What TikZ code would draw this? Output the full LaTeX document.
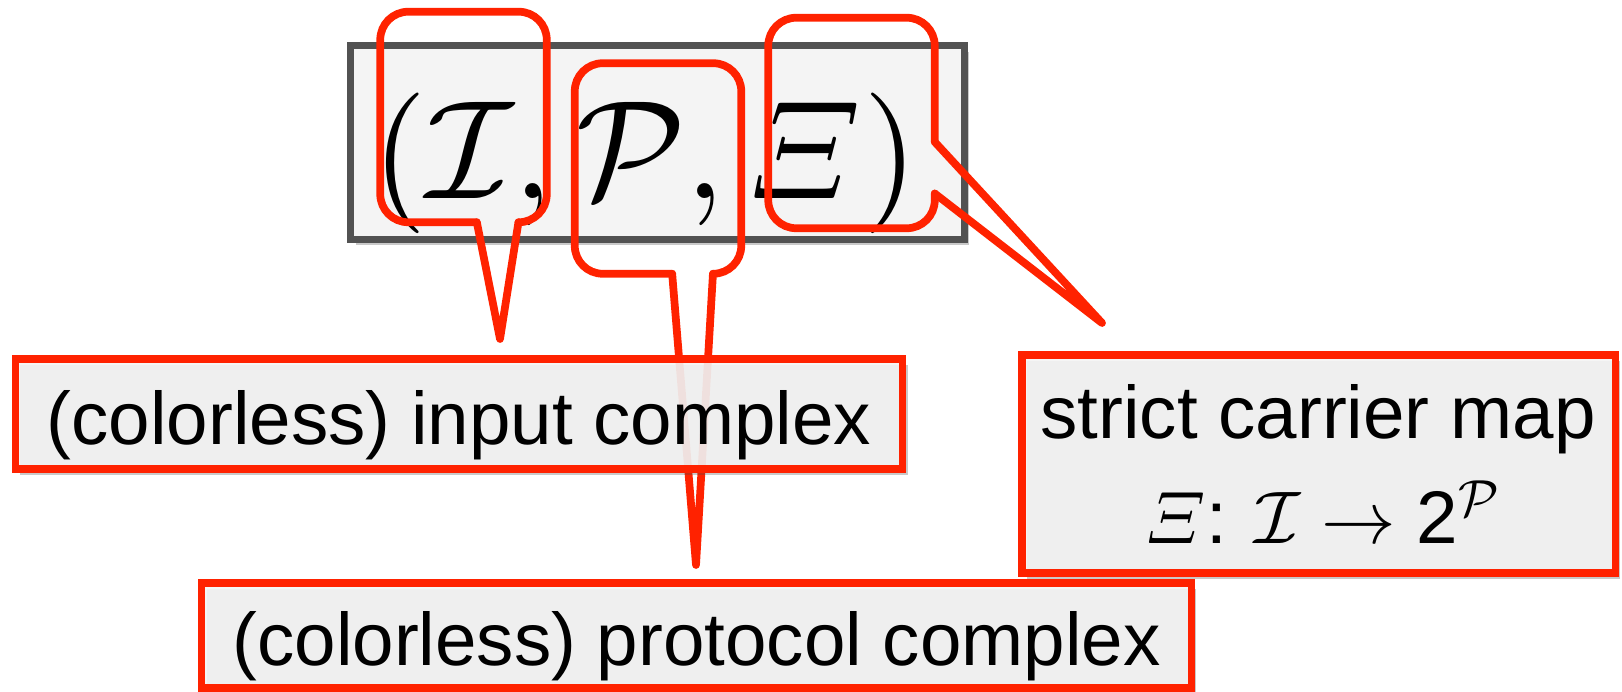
\documentclass[tikz,border=0pt]{standalone}
\usepackage{amsmath}
\usepackage[no-math]{fontspec}
\newfontfamily\labelfont{Liberation Sans}
\usetikzlibrary{calc,shadows}

% scalable math fonts for the large triple
\DeclareFontShape{OML}{cmm}{m}{it}{<->cmmi10}{}
\DeclareFontShape{OMS}{cmsy}{m}{n}{<->cmsy10}{}
\DeclareFontShape{OT1}{cmr}{m}{n}{<->cmr10}{}

\definecolor{calloutred}{RGB}{255,34,0}
\definecolor{framegray}{RGB}{82,82,82}
\definecolor{boxfill}{RGB}{244,244,244}

\tikzset{
  boxshadow/.style={drop shadow={shadow xshift=0.5mm,shadow yshift=-0.6mm,opacity=0.3,fill=black!70}},
  tuplebox/.style={draw=framegray,line width=2pt,fill=boxfill,boxshadow,inner sep=0pt},
  labeltext/.style={inner sep=0pt,font=\labelfont\fontsize{21.2}{25}\selectfont},
  labelbox/.style={draw=calloutred,line width=2.1pt,fill=boxfill,fill opacity=0.9,text opacity=1,
    boxshadow,labeltext,text height=0.75cm,text depth=0.15cm},
  spot/.style={inner sep=0pt,minimum width=1.65cm,minimum height=2.09cm},
  callout/.style={draw=calloutred,line width=2.2pt,line cap=round,rounded corners=0.28cm},
  pointer/.style={draw=calloutred,line width=2.2pt,line cap=round,line join=round},
}

\begin{document}
\begin{tikzpicture}[x=0.01cm,y=-0.01cm]
\useasboundingbox (0,0) rectangle (1622,692);

% the triple
\node[tuplebox,minimum width=6.13cm,minimum height=1.93cm] (frame) at (657.5,142.5) {};
\node[anchor=base,inner sep=0pt,font=\fontsize{40}{48}\selectfont] (tuple) at (645,199)
  {$(\mathcal{I},\mathcal{P},\mathnormal{\Xi})$};

% regions picked out by the callouts
\node[spot] (spotI) at (463.5,117) {};
\node[spot] (spotP) at (658,168.5) {};
\node[spot] (spotX) at (851.5,123) {};

\coordinate (tipI) at (500,339);
\coordinate (tipP) at (696,565);
\coordinate (tipX) at (1102,323);

% callout around I
\draw[callout] ($(spotI.south west)!0.83!(spotI.south east)$) -- (spotI.south east)
  -- (spotI.north east) -- (spotI.north west) -- (spotI.south west)
  -- ($(spotI.south west)!0.58!(spotI.south east)$);
\draw[pointer] ($(spotI.south west)!0.58!(spotI.south east)$) -- (tipI)
  -- ($(spotI.south west)!0.83!(spotI.south east)$);

% callout around P
\draw[callout] ($(spotP.south west)!0.83!(spotP.south east)$) -- (spotP.south east)
  -- (spotP.north east) -- (spotP.north west) -- (spotP.south west)
  -- ($(spotP.south west)!0.585!(spotP.south east)$);
\draw[pointer] ($(spotP.south west)!0.585!(spotP.south east)$) -- (tipP)
  -- ($(spotP.south west)!0.83!(spotP.south east)$);

% callout around Xi
\draw[callout] ($(spotX.north east)!0.59!(spotX.south east)$) -- (spotX.north east)
  -- (spotX.north west) -- (spotX.south west) -- (spotX.south east)
  -- ($(spotX.north east)!0.835!(spotX.south east)$);
\draw[pointer] ($(spotX.north east)!0.59!(spotX.south east)$) -- (tipX)
  -- ($(spotX.north east)!0.835!(spotX.south east)$);

% labels
\node[labelbox,minimum width=8.865cm,minimum height=1.10cm] (input) at (459,414)
  {(colorless) input complex};
\node[labelbox,minimum width=9.89cm,minimum height=1.05cm] (protocol) at (696.5,635.5)
  {(colorless) protocol complex};
\node[labelbox,minimum width=5.93cm,minimum height=2.175cm] (carrier) at (1318.5,464) {};
\node[labeltext,anchor=base] (carrierName) at (1318,439) {strict carrier map};
\node[labeltext,anchor=base] (carrierMap) at (1323,544)
  {$\mathnormal{\Xi}$: $\mathcal{I}\rightarrow$ 2$^{\mathcal{P}}$};

\end{tikzpicture}
\end{document}
